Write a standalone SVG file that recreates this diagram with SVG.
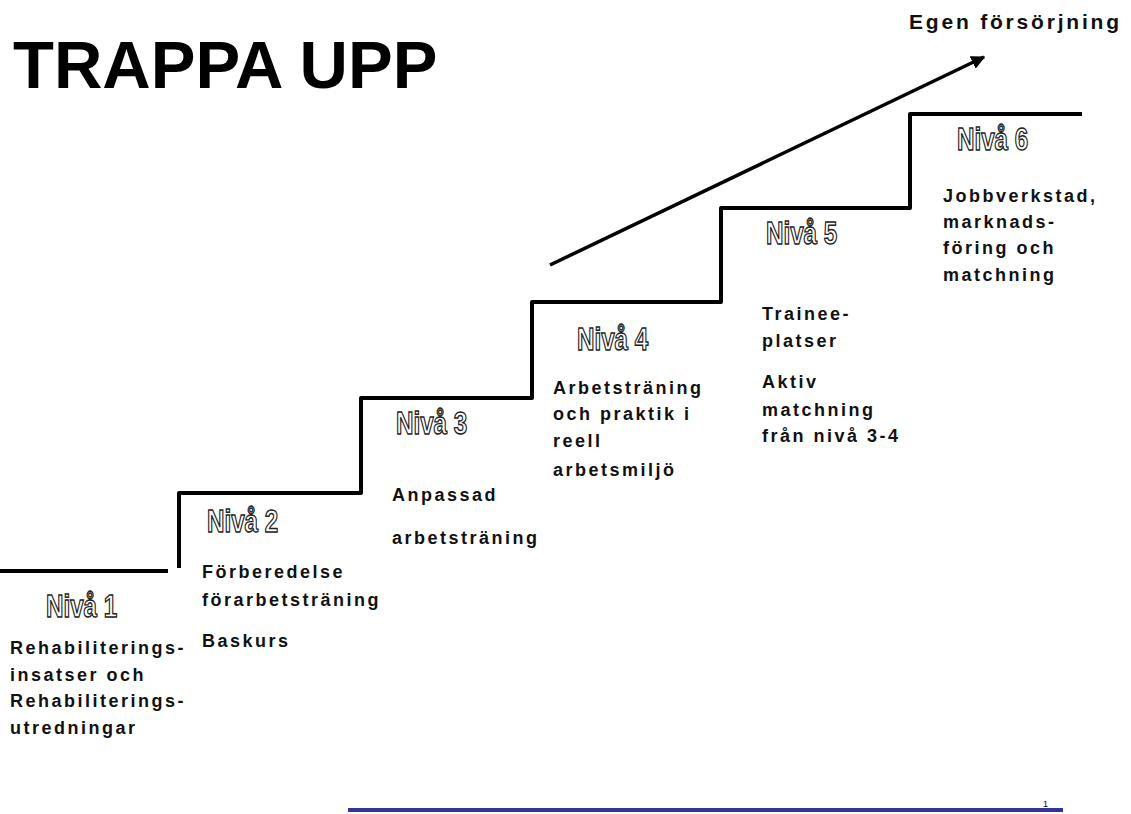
<svg xmlns="http://www.w3.org/2000/svg" width="1131" height="814" viewBox="0 0 1131 814">
<defs>
<style>
.body{font-family:"Liberation Sans",Arial,sans-serif;font-weight:bold;font-size:18px;letter-spacing:2.5px;fill:#111}
.niva{font-family:"Liberation Sans",Arial,sans-serif;font-weight:bold;font-size:31px;fill:#fff;stroke:#222;stroke-width:1.4px}
.stair{fill:none;stroke:#000;stroke-width:4;stroke-linejoin:round;stroke-linecap:butt}
</style>
<marker id="ah" viewBox="0 0 10 10" refX="9" refY="5" markerWidth="4" markerHeight="4" orient="auto" markerUnits="strokeWidth">
<path d="M0,0 L10,5 L0,10 z" fill="#000"/>
</marker>
</defs>
<rect width="1131" height="814" fill="#fff"/>
<text x="13" y="88" font-family="Liberation Sans,Arial,sans-serif" font-weight="bold" font-size="67" fill="#000">TRAPPA UPP</text>
<g id="connectors">
<path class="stair" d="M0,571 L168,571"/>
<path class="stair" d="M179,568 L179,493 L361,493 L361,398 L532,398 L532,302 L721,302 L721,208 L910,208 L910,114 L1082,114"/>
<line x1="550" y1="265" x2="984" y2="57" stroke="#000" stroke-width="3.5" marker-end="url(#ah)"/>
</g>
<g id="goal"><text x="909" y="29" font-family="Liberation Sans,Arial,sans-serif" font-weight="bold" font-size="21" letter-spacing="2.8" fill="#111">Egen försörjning</text></g>
<g id="niva1">
<text class="niva" transform="translate(46,617) scale(0.78,1)">Nivå 1</text>
<text class="body" x="10" y="654">Rehabiliterings-</text>
<text class="body" x="10" y="681">insatser och</text>
<text class="body" x="10" y="707">Rehabiliterings-</text>
<text class="body" x="10" y="734">utredningar</text>
</g>
<g id="niva2">
<text class="niva" transform="translate(207,532) scale(0.78,1)">Nivå 2</text>
<text class="body" x="202" y="578">Förberedelse</text>
<text class="body" x="202" y="606">förarbetsträning</text>
<text class="body" x="202" y="647">Baskurs</text>
</g>
<g id="niva3">
<text class="niva" transform="translate(396,434) scale(0.78,1)">Nivå 3</text>
<text class="body" x="392" y="501">Anpassad</text>
<text class="body" x="392" y="544">arbetsträning</text>
</g>
<g id="niva4">
<text class="niva" transform="translate(577,350) scale(0.78,1)">Nivå 4</text>
<text class="body" x="553" y="394">Arbetsträning</text>
<text class="body" x="553" y="420">och praktik i</text>
<text class="body" x="553" y="447">reell</text>
<text class="body" x="553" y="476">arbetsmiljö</text>
</g>
<g id="niva5">
<text class="niva" transform="translate(766,244) scale(0.78,1)">Nivå 5</text>
<text class="body" x="762" y="320">Trainee-</text>
<text class="body" x="762" y="347">platser</text>
<text class="body" x="762" y="388">Aktiv</text>
<text class="body" x="762" y="416">matchning</text>
<text class="body" x="762" y="442">från nivå 3-4</text>
</g>
<g id="niva6">
<text class="niva" transform="translate(957,150) scale(0.78,1)">Nivå 6</text>
<text class="body" x="943" y="202">Jobbverkstad,</text>
<text class="body" x="943" y="228">marknads-</text>
<text class="body" x="943" y="254">föring och</text>
<text class="body" x="943" y="281">matchning</text>
</g>
<g id="footer">
<line x1="348" y1="810" x2="1063" y2="810" stroke="#333399" stroke-width="4"/>
<text x="1043" y="807" font-family="Liberation Sans,Arial,sans-serif" font-size="9" fill="#000">1</text>
</g>
</svg>
